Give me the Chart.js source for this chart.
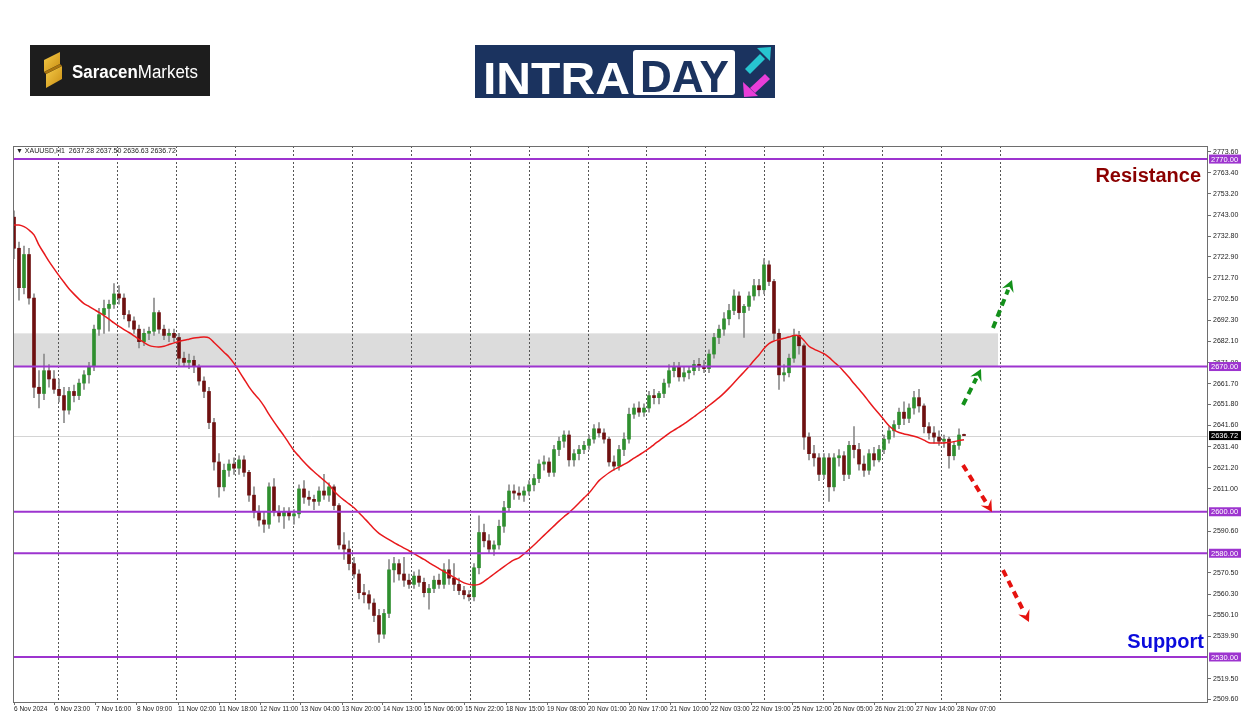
<!DOCTYPE html>
<html>
<head>
<meta charset="utf-8">
<script src="https://cdn.jsdelivr.net/npm/chart.js@4.4.1/dist/chart.umd.min.js"></script>
<style>
  html, body { margin: 0; padding: 0; background: #ffffff; }
  #wrap { position: relative; width: 1250px; height: 716px; overflow: hidden; }
  #chart { position: absolute; left: 0; top: 0; }
  #logos { position: absolute; left: 0; top: 0; }
</style>
</head>
<body>
<div id="wrap">
  <canvas id="chart" width="1250" height="716"></canvas>
  <svg id="logos" width="1250" height="110" xmlns="http://www.w3.org/2000/svg">
    <defs>
      <linearGradient id="gold" x1="0" y1="0" x2="1" y2="1">
        <stop offset="0" stop-color="#f6cd4a"/>
        <stop offset="1" stop-color="#c98d12"/>
      </linearGradient>
    </defs>
    <!-- Saracen Markets -->
    <rect x="30" y="45" width="180" height="51" fill="#1d1d1d"/>
    <polygon points="44,60 60,52 60,64 44,72" fill="url(#gold)"/>
    <polygon points="46,74 62,66 62,79 46,88" fill="url(#gold)"/>
    <polygon points="44,72 60,64 62,66 46,74" fill="#a8730e"/>
    <text x="72" y="78" font-family="Liberation Sans, Arial, sans-serif" font-size="18" fill="#ffffff" textLength="126" lengthAdjust="spacingAndGlyphs"><tspan font-weight="bold">Saracen</tspan><tspan>Markets</tspan></text>
    <!-- INTRADAY -->
    <rect x="475" y="45" width="300" height="53" fill="#1b335f"/>
    <text x="483" y="94" font-family="Liberation Sans, Arial, sans-serif" font-size="45" font-weight="bold" fill="#ffffff" textLength="147" lengthAdjust="spacingAndGlyphs">INTRA</text>
    <rect x="633" y="50" width="102" height="45" rx="3" fill="#ffffff"/>
    <text x="640" y="92" font-family="Liberation Sans, Arial, sans-serif" font-size="44" font-weight="bold" fill="#1b335f" textLength="89" lengthAdjust="spacingAndGlyphs">DAY</text>
    <polygon points="757,48 771,47 770,61" fill="#27c5d0"/>
    <polygon points="760,54 765,59 750,74 745,69" fill="#27c5d0"/>
    <polygon points="743,82 744,97 758,96" fill="#e83ed8"/>
    <polygon points="765,74 770,79 755,93 750,88" fill="#e83ed8"/>
  </svg>
</div>
<script>
// Свечи XAUUSD (по 2 часа на свечу)
const opens = [
  2742, 2727, 2708, 2724, 2703, 2660, 2657, 2668, 2664, 2659,
  2656, 2649, 2658, 2656, 2662, 2666, 2670, 2688, 2695, 2698,
  2700, 2705, 2703, 2695, 2692, 2688, 2682, 2686, 2687, 2696,
  2688, 2685, 2686, 2684, 2674, 2672, 2673, 2670, 2663, 2658,
  2643, 2624, 2612, 2620, 2623, 2621, 2625, 2619, 2608, 2600,
  2596, 2594, 2612, 2600, 2598, 2600, 2598, 2599, 2611, 2607,
  2606, 2605, 2610, 2608, 2612, 2603, 2584, 2582, 2575, 2570,
  2561, 2560, 2556, 2550, 2541, 2551, 2572, 2575, 2570, 2567,
  2565, 2569, 2566, 2561, 2563, 2567, 2565, 2572, 2568, 2565,
  2562, 2560, 2559, 2573, 2590, 2586, 2582, 2584, 2593, 2602,
  2610, 2609, 2608, 2610, 2613, 2616, 2623, 2624, 2619, 2630,
  2634, 2637, 2625, 2628, 2630, 2632, 2635, 2640, 2638, 2635,
  2624, 2622, 2630, 2635, 2647, 2650, 2648, 2650, 2656, 2655,
  2657, 2662, 2668, 2670, 2665, 2667, 2668, 2671, 2670, 2669,
  2676, 2684, 2688, 2693, 2697, 2704, 2696, 2699, 2704, 2709,
  2707, 2719, 2711, 2686, 2666, 2667, 2674, 2685, 2680, 2636,
  2628, 2626, 2618, 2626, 2612, 2626, 2627, 2618, 2632, 2630,
  2623, 2620, 2628, 2625, 2630, 2635, 2639, 2642, 2648, 2645,
  2650, 2655, 2651, 2641, 2638, 2636, 2634, 2635, 2627, 2632,
  2637.28
];
const highs = [
  2745, 2730, 2728, 2727, 2705, 2668, 2676, 2671, 2668, 2664,
  2660, 2660, 2661, 2664, 2668, 2672, 2690, 2698, 2702, 2702,
  2710, 2709, 2705, 2697, 2694, 2690, 2688, 2689, 2703, 2697,
  2690, 2688, 2688, 2686, 2677, 2676, 2675, 2671, 2665, 2660,
  2645, 2628, 2623, 2625, 2626, 2627, 2627, 2620, 2612, 2603,
  2600, 2614, 2616, 2603, 2602, 2602, 2601, 2613, 2615, 2610,
  2608, 2612, 2618, 2614, 2613, 2604, 2590, 2586, 2578, 2572,
  2565, 2562, 2558, 2553, 2553, 2577, 2578, 2577, 2578, 2570,
  2571, 2572, 2568, 2565, 2569, 2570, 2575, 2577, 2575, 2568,
  2564, 2562, 2575, 2598, 2594, 2589, 2586, 2596, 2605, 2613,
  2613, 2612, 2612, 2615, 2618, 2625, 2627, 2626, 2632, 2636,
  2639, 2639, 2630, 2632, 2634, 2637, 2642, 2643, 2640, 2636,
  2627, 2632, 2638, 2650, 2652, 2653, 2652, 2658, 2659, 2658,
  2664, 2671, 2672, 2672, 2670, 2670, 2673, 2674, 2673, 2678,
  2686, 2690, 2696, 2700, 2707, 2706, 2700, 2706, 2712, 2712,
  2722, 2721, 2712, 2688, 2671, 2676, 2688, 2687, 2681, 2638,
  2632, 2628, 2628, 2628, 2628, 2630, 2629, 2634, 2641, 2633,
  2627, 2630, 2631, 2632, 2637, 2641, 2644, 2650, 2653, 2652,
  2658, 2659, 2652, 2643, 2641, 2639, 2637, 2636, 2634, 2640,
  2637.5
];
const lows = [
  2722, 2702, 2705, 2700, 2655, 2650, 2654, 2660, 2657, 2653,
  2643, 2647, 2653, 2654, 2659, 2662, 2668, 2685, 2686, 2687,
  2698, 2700, 2693, 2689, 2686, 2679, 2680, 2683, 2685, 2686,
  2683, 2682, 2682, 2670, 2670, 2669, 2667, 2661, 2655, 2640,
  2620, 2607, 2610, 2617, 2618, 2618, 2617, 2605, 2597, 2593,
  2590, 2592, 2598, 2595, 2592, 2596, 2594, 2597, 2604, 2603,
  2601, 2603, 2606, 2605, 2601, 2582, 2577, 2572, 2568, 2558,
  2556, 2553, 2547, 2537, 2539, 2549, 2566, 2567, 2564, 2563,
  2563, 2564, 2559, 2553, 2561, 2563, 2563, 2565, 2562, 2560,
  2558, 2557, 2557, 2570, 2583, 2580, 2579, 2582, 2590, 2600,
  2606, 2606, 2605, 2608, 2610, 2614, 2620, 2617, 2617, 2627,
  2631, 2622, 2622, 2625, 2628, 2630, 2633, 2636, 2633, 2622,
  2620, 2620, 2627, 2633, 2645, 2646, 2646, 2648, 2652, 2652,
  2655, 2660, 2665, 2663, 2663, 2664, 2666, 2668, 2667, 2667,
  2674, 2681, 2685, 2690, 2695, 2693, 2684, 2697, 2702, 2704,
  2705, 2709, 2683, 2659, 2663, 2665, 2672, 2676, 2630, 2625,
  2622, 2615, 2616, 2605, 2610, 2622, 2615, 2616, 2626, 2620,
  2617, 2618, 2622, 2624, 2628, 2633, 2636, 2640, 2642, 2643,
  2647, 2648, 2638, 2635, 2633, 2632, 2631, 2621, 2625, 2630,
  2636.63
];
const closes = [
  2727, 2708, 2724, 2703, 2660, 2657, 2668, 2664, 2659, 2656,
  2649, 2658, 2656, 2662, 2666, 2670, 2688, 2695, 2698, 2700,
  2705, 2703, 2695, 2692, 2688, 2682, 2686, 2687, 2696, 2688,
  2685, 2686, 2684, 2674, 2672, 2673, 2670, 2663, 2658, 2643,
  2624, 2612, 2620, 2623, 2621, 2625, 2619, 2608, 2600, 2596,
  2594, 2612, 2600, 2598, 2600, 2598, 2599, 2611, 2607, 2606,
  2605, 2610, 2608, 2612, 2603, 2584, 2582, 2575, 2570, 2561,
  2560, 2556, 2550, 2541, 2551, 2572, 2575, 2570, 2567, 2565,
  2569, 2566, 2561, 2563, 2567, 2565, 2572, 2568, 2565, 2562,
  2560, 2559, 2573, 2590, 2586, 2582, 2584, 2593, 2602, 2610,
  2609, 2608, 2610, 2613, 2616, 2623, 2624, 2619, 2630, 2634,
  2637, 2625, 2628, 2630, 2632, 2635, 2640, 2638, 2635, 2624,
  2622, 2630, 2635, 2647, 2650, 2648, 2650, 2656, 2655, 2657,
  2662, 2668, 2670, 2665, 2667, 2668, 2671, 2670, 2669, 2676,
  2684, 2688, 2693, 2697, 2704, 2696, 2699, 2704, 2709, 2707,
  2719, 2711, 2686, 2666, 2667, 2674, 2685, 2680, 2636, 2628,
  2626, 2618, 2626, 2612, 2626, 2627, 2618, 2632, 2630, 2623,
  2620, 2628, 2625, 2630, 2635, 2639, 2642, 2648, 2645, 2650,
  2655, 2651, 2641, 2638, 2636, 2634, 2635, 2627, 2632, 2637,
  2636.72
];
// Скользящая средняя (красная линия)
const maValues = [
  2738.2, 2738.2, 2737.4, 2735.8, 2733.5, 2728.5, 2724.6, 2720.7, 2717.2, 2713.8,
  2710.6, 2707.5, 2704.9, 2702.5, 2700.3, 2699.0, 2697.5, 2696.1, 2694.5, 2692.8,
  2691.0, 2689.3, 2687.8, 2686.4, 2684.8, 2683.1, 2681.6, 2680.2, 2679.6, 2679.4,
  2679.8, 2680.6, 2681.4, 2682.1, 2682.7, 2683.2, 2683.7, 2684.0, 2684.2, 2683.8,
  2681.6, 2679.3, 2676.9, 2674.6, 2671.5, 2667.8, 2664.0, 2660.2, 2657.0, 2654.3,
  2650.9, 2646.9, 2643.3, 2639.9, 2636.6, 2633.0, 2629.4, 2626.7, 2624.0, 2621.5,
  2619.3, 2617.2, 2615.1, 2613.0, 2610.0, 2607.6, 2605.6, 2603.8, 2601.9, 2599.5,
  2597.0, 2594.5, 2591.8, 2589.6, 2588.0, 2586.6, 2585.1, 2583.8, 2582.5, 2581.2,
  2579.8, 2578.4, 2577.0, 2575.5, 2574.0, 2572.6, 2571.2, 2569.8, 2568.4, 2567.0,
  2565.7, 2565.0, 2564.7, 2565.0, 2566.4, 2568.2, 2570.0, 2571.8, 2573.6, 2575.3,
  2576.8, 2577.8, 2579.7, 2581.8, 2584.0, 2586.3, 2588.6, 2590.9, 2593.2, 2595.5,
  2597.6, 2599.6, 2601.8, 2604.2, 2606.7, 2609.0, 2612.0, 2615.0, 2617.0, 2618.8,
  2620.3, 2621.5, 2622.8, 2624.2, 2625.8, 2627.3, 2628.9, 2630.5, 2632.4, 2634.2,
  2636.0, 2637.8, 2639.3, 2640.8, 2642.4, 2644.0, 2645.8, 2647.6, 2649.3, 2651.2,
  2653.1, 2655.0, 2657.2, 2659.6, 2662.2, 2664.8, 2667.4, 2670.0, 2672.9, 2675.6,
  2678.7, 2681.0, 2682.3, 2683.0, 2683.6, 2684.2, 2685.0, 2684.8, 2682.5, 2679.8,
  2678.4, 2677.3, 2676.2, 2674.4, 2672.2, 2670.1, 2667.5, 2664.8, 2661.8, 2659.0,
  2656.2, 2653.0, 2650.0, 2647.2, 2644.3, 2641.5, 2639.5, 2638.2, 2637.5, 2637.0,
  2636.4, 2635.6, 2634.5, 2633.3, 2633.1, 2633.1, 2633.1, 2633.4, 2633.8, 2634.3,
  2634.7
];
const timeLabels = [
  '6 Nov 2024', '6 Nov 23:00', '7 Nov 16:00', '8 Nov 09:00', '11 Nov 02:00', '11 Nov 18:00',
  '12 Nov 11:00', '13 Nov 04:00', '13 Nov 20:00', '14 Nov 13:00', '15 Nov 06:00', '15 Nov 22:00',
  '18 Nov 15:00', '19 Nov 08:00', '20 Nov 01:00', '20 Nov 17:00', '21 Nov 10:00', '22 Nov 03:00',
  '22 Nov 19:00', '25 Nov 12:00', '26 Nov 05:00', '26 Nov 21:00', '27 Nov 14:00', '28 Nov 07:00'
];
const priceTicks = [
  2773.6, 2763.4, 2753.2, 2743.0, 2732.8, 2722.9, 2712.7, 2702.5, 2692.3, 2682.1, 2671.9,
  2661.7, 2651.8, 2641.6, 2631.4, 2621.2, 2611.0, 2590.6, 2570.5, 2560.3, 2550.1, 2539.9,
  2519.5, 2509.6
];
// Уровни сопротивления/поддержки
const levelPrices = [2770, 2670, 2600, 2580, 2530];
const lastPrice = 2636.72;
const zonePrices = [2670, 2686];
// Стрелки сценариев: [x0, p0, x1, p1] в единицах свечей/цены
const upArrows = [[189.8, 2651.5, 193.4, 2668.8], [195.8, 2688.6, 199.6, 2711.7]];
const downArrows = [[189.8, 2622.5, 195.6, 2599.9], [197.8, 2571.9, 203.0, 2546.9]];

const LABEL_STEP = 8.2;      // подписи времени каждые 17 часов
const GRID_START = 8.8;      // пунктирная сетка MT4
const GRID_STEP = 11.77;
const GRID_END = 198;
const ZONE_END = 196.8;
const SMALL_FONT = '7.5px "Liberation Sans", Arial, sans-serif';
const PURPLE = '#9d34cf';

function drawArrow(ctx, x0, y0, x1, y1, color) {
    const ang = Math.atan2(y1 - y0, x1 - x0);
    const headLen = 13;
    const bx = x1 - Math.cos(ang) * headLen * 0.8;
    const by = y1 - Math.sin(ang) * headLen * 0.8;
    ctx.save();
    ctx.strokeStyle = color;
    ctx.lineWidth = 4;
    ctx.setLineDash([7, 5]);
    ctx.beginPath();
    ctx.moveTo(x0, y0);
    ctx.lineTo(bx, by);
    ctx.stroke();
    ctx.setLineDash([]);
    // наконечник-шеврон
    ctx.fillStyle = color;
    ctx.beginPath();
    ctx.moveTo(x1, y1);
    ctx.lineTo(x1 - Math.cos(ang - 0.5) * headLen, y1 - Math.sin(ang - 0.5) * headLen);
    ctx.lineTo(x1 - Math.cos(ang) * headLen * 0.55, y1 - Math.sin(ang) * headLen * 0.55);
    ctx.lineTo(x1 - Math.cos(ang + 0.5) * headLen, y1 - Math.sin(ang + 0.5) * headLen);
    ctx.closePath();
    ctx.fill();
    ctx.restore();
}

function drawTag(ctx, x, y, text, bg) {
    ctx.save();
    ctx.fillStyle = bg;
    ctx.fillRect(x, y - 4.5, 32, 9);
    ctx.fillStyle = '#ffffff';
    ctx.font = SMALL_FONT;
    ctx.textAlign = 'left';
    ctx.textBaseline = 'middle';
    ctx.fillText(text, x + 2, y + 0.5);
    ctx.restore();
}

const mt4Plugin = {
    id: 'mt4Decor',
    beforeDatasetsDraw(chart) {
        const { ctx, chartArea: a, scales: { x, y } } = chart;
        ctx.save();
        // серая зона
        const zTop = y.getPixelForValue(zonePrices[1]);
        const zBot = y.getPixelForValue(zonePrices[0]);
        ctx.fillStyle = '#dcdcdc';
        ctx.fillRect(a.left, zTop, x.getPixelForValue(ZONE_END) - a.left, zBot - zTop);
        // пунктирная вертикальная сетка
        ctx.strokeStyle = '#555555';
        ctx.lineWidth = 1;
        ctx.setLineDash([2, 2]);
        for (let g = GRID_START; g < GRID_END; g += GRID_STEP) {
            const px = Math.round(x.getPixelForValue(g)) + 0.5;
            ctx.beginPath();
            ctx.moveTo(px, a.top);
            ctx.lineTo(px, a.bottom);
            ctx.stroke();
        }
        ctx.setLineDash([]);
        // линия текущей цены
        const ly = Math.round(y.getPixelForValue(lastPrice)) + 0.5;
        ctx.strokeStyle = '#d4d4d4';
        ctx.beginPath();
        ctx.moveTo(a.left, ly);
        ctx.lineTo(a.right, ly);
        ctx.stroke();
        ctx.restore();
    },
    afterDatasetsDraw(chart) {
        const { ctx, chartArea: a, scales: { x, y } } = chart;
        ctx.save();
        // уровни
        ctx.strokeStyle = PURPLE;
        ctx.lineWidth = 2;
        levelPrices.forEach(p => {
            const py = y.getPixelForValue(p);
            ctx.beginPath();
            ctx.moveTo(a.left, py);
            ctx.lineTo(a.right, py);
            ctx.stroke();
        });
        // стрелки
        upArrows.forEach(r => drawArrow(ctx, x.getPixelForValue(r[0]), y.getPixelForValue(r[1]),
            x.getPixelForValue(r[2]), y.getPixelForValue(r[3]), '#13901a'));
        downArrows.forEach(r => drawArrow(ctx, x.getPixelForValue(r[0]), y.getPixelForValue(r[1]),
            x.getPixelForValue(r[2]), y.getPixelForValue(r[3]), '#e5120f'));
        // подписи
        ctx.font = 'bold 20px "Liberation Sans", Arial, sans-serif';
        ctx.textAlign = 'right';
        ctx.textBaseline = 'middle';
        ctx.fillStyle = '#8b0000';
        ctx.fillText('Resistance', a.right - 7, 176);
        ctx.fillStyle = '#0b0bdc';
        ctx.fillText('Support', a.right - 4, 642);
        // заголовок
        ctx.font = '7px "Liberation Sans", Arial, sans-serif';
        ctx.textAlign = 'left';
        ctx.fillStyle = '#222222';
        ctx.fillText('\u25BC XAUUSD,H1  2637.28 2637.50 2636.63 2636.72', a.left + 3, a.top + 5);
        // рамка
        ctx.strokeStyle = '#6e6e6e';
        ctx.lineWidth = 1;
        ctx.strokeRect(a.left + 0.5, a.top + 0.5, a.right - a.left - 1, a.bottom - a.top);
        ctx.restore();
    },
    afterDraw(chart) {
        const { ctx, chartArea: a, scales: { y } } = chart;
        levelPrices.forEach(p => drawTag(ctx, a.right + 1, y.getPixelForValue(p), p.toFixed(2), PURPLE));
        drawTag(ctx, a.right + 1, y.getPixelForValue(lastPrice), lastPrice.toFixed(2), '#000000');
    }
};

const wickData = highs.map((h, i) => ({ x: i, y: [lows[i], h] }));
const bodyData = opens.map((o, i) => ({ x: i, y: [Math.min(o, closes[i]), Math.max(o, closes[i])] }));
const maData = maValues.map((v, i) => ({ x: i, y: v }));
const bodyColor = ctx => {
    const i = ctx.dataIndex;
    return closes[i] >= opens[i] ? '#2f8f2f' : '#6e1010';
};

const ctx = document.getElementById('chart').getContext('2d');
new Chart(ctx, {
    type: 'bar',
    data: {
        datasets: [
            {
                type: 'line',
                data: maData,
                borderColor: '#e8191c',
                borderWidth: 1.5,
                pointRadius: 0,
                tension: 0.3,
                order: 0
            },
            {
                data: wickData,
                backgroundColor: '#8c8c8c',
                barThickness: 1,
                grouped: false,
                order: 2
            },
            {
                data: bodyData,
                backgroundColor: bodyColor,
                borderColor: '#8c8c8c',
                borderWidth: 0,
                barThickness: 3,
                minBarLength: 1,
                grouped: false,
                order: 1
            }
        ]
    },
    options: {
        responsive: false,
        animation: false,
        events: [],
        layout: { padding: { left: 13, top: 146, right: 0, bottom: 0 } },
        plugins: { legend: { display: false }, tooltip: { enabled: false } },
        scales: {
            x: {
                type: 'linear',
                min: -0.2,
                max: 238.8,
                offset: false,
                afterBuildTicks: s => { s.ticks = timeLabels.map((_, k) => ({ value: k * LABEL_STEP })); },
                afterFit: s => { s.height = 14; },
                ticks: {
                    callback: (v, idx) => timeLabels[idx],
                    autoSkip: false,
                    maxRotation: 0,
                    minRotation: 0,
                    align: 'start',
                    padding: 0,
                    font: { family: '"Liberation Sans", Arial, sans-serif', size: 6.5 },
                    color: '#222222'
                },
                grid: { drawOnChartArea: false, tickLength: 3, color: '#6e6e6e', offset: false },
                border: { display: false }
            },
            y: {
                type: 'linear',
                position: 'right',
                min: 2508.3,
                max: 2776.3,
                afterBuildTicks: s => { s.ticks = priceTicks.map(v => ({ value: v })); },
                afterFit: s => { s.width = 42; },
                ticks: {
                    callback: v => v.toFixed(2),
                    padding: 2,
                    font: { family: '"Liberation Sans", Arial, sans-serif', size: 7 },
                    color: '#222222'
                },
                grid: { drawOnChartArea: false, tickLength: 3, color: '#6e6e6e' },
                border: { display: false }
            }
        }
    },
    plugins: [mt4Plugin]
});
</script>
</body>
</html>
